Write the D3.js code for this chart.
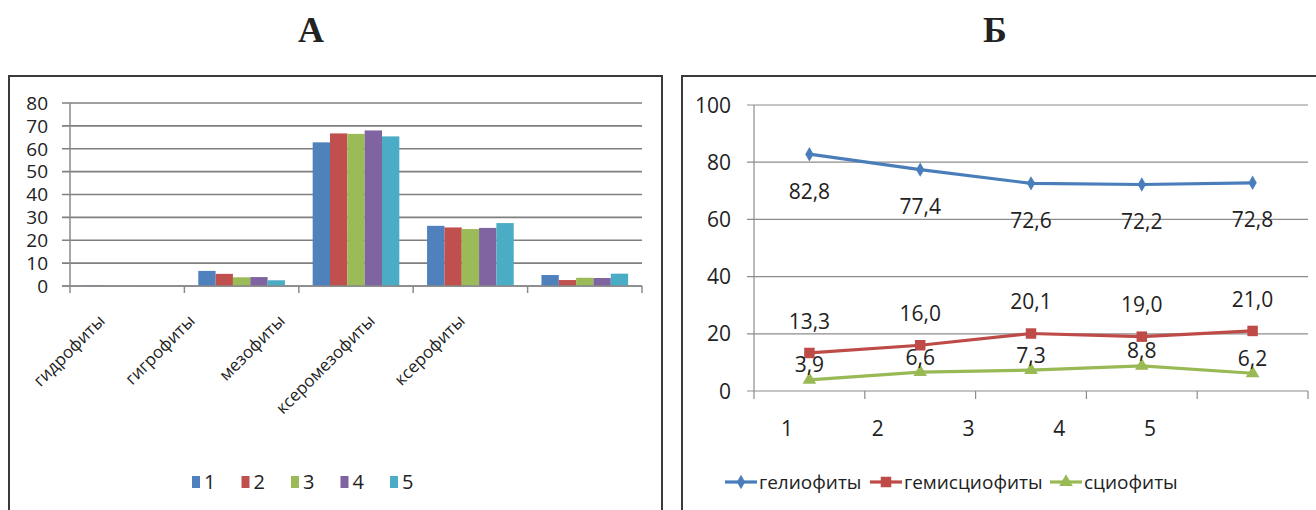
<!DOCTYPE html>
<html>
<head>
<meta charset="utf-8">
<script src="https://cdn.jsdelivr.net/npm/d3@7"></script>
<style>
  body { margin: 0; background: #fff; }
  svg { display: block; font-family: 'Open Sans', sans-serif; }
</style>
</head>
<body>
<div id="container"></div>
<script>
// ---- data: panel А (bars) ----
const phytoCategories = ['гидрофиты', 'гигрофиты', 'мезофиты', 'ксеромезофиты', 'ксерофиты'];
const barSeries = ['1', '2', '3', '4', '5'];
const barValues1 = [0.3, 6.6, 62.8, 26.3, 4.8];
const barValues2 = [0.0, 5.3, 66.7, 25.6, 2.6];
const barValues3 = [0.3, 3.8, 66.5, 24.9, 3.6];
const barValues4 = [0.0, 3.9, 68.0, 25.4, 3.5];
const barValues5 = [0.0, 2.5, 65.4, 27.5, 5.4];
const barTicks = [0, 10, 20, 30, 40, 50, 60, 70, 80];

// ---- data: panel Б (lines) ----
const sites = ['1', '2', '3', '4', '5'];
const lineNames = ['гелиофиты', 'гемисциофиты', 'сциофиты'];
const helioValues = [82.8, 77.4, 72.6, 72.2, 72.8];
const hemiValues = [13.3, 16.0, 20.1, 19.0, 21.0];
const scioValues = [3.9, 6.6, 7.3, 8.8, 6.2];
const lineTicks = [0, 20, 40, 60, 80, 100];

const barColors = ['#4f81bd', '#c0504d', '#9bbb59', '#8064a2', '#4bacc6'];
const lineColors = ['#4a7ebb', '#be4b48', '#98b954'];

const width = 1316, height = 510;

const svg = d3.select('#container').append('svg')
  .attr('width', width)
  .attr('height', height);

// titles
svg.append('text').attr('x', 311).attr('y', 42)
  .attr('text-anchor', 'middle')
  .style('font-family', "'Liberation Serif', serif").style('font-weight', 'bold')
  .style('font-size', '36px').attr('fill', '#222').text('А');
svg.append('text').attr('x', 995).attr('y', 42)
  .attr('text-anchor', 'middle')
  .style('font-family', "'Liberation Serif', serif").style('font-weight', 'bold')
  .style('font-size', '36px').attr('fill', '#222').text('Б');

// panel frames
svg.append('rect').attr('x', 9).attr('y', 76).attr('width', 653).attr('height', 450)
  .attr('fill', 'none').attr('stroke', '#3a3a3a').attr('stroke-width', 2);
svg.append('rect').attr('x', 682).attr('y', 76).attr('width', 650).attr('height', 450)
  .attr('fill', 'none').attr('stroke', '#3a3a3a').attr('stroke-width', 2);

// ================= panel А =================
const gA = svg.append('g');
const yA = d3.scaleLinear().domain([0, 80]).range([286, 103]);
const xA = d3.scaleBand().domain(phytoCategories).range([70, 642]);
const xInner = d3.scaleBand().domain(barSeries).range([0, xA.bandwidth()])
  .paddingInner(0).paddingOuter(0.8);
const labelA = d3.scalePoint().domain(phytoCategories).range([106, 466]);

gA.selectAll('line.grid').data(barTicks).enter().append('line')
  .attr('class', 'grid')
  .attr('x1', 62).attr('x2', 642)
  .attr('y1', d => yA(d)).attr('y2', d => yA(d))
  .attr('stroke', '#7f7f7f').attr('stroke-width', 1.6);

gA.selectAll('text.ytick').data(barTicks).enter().append('text')
  .attr('class', 'ytick')
  .attr('x', 48).attr('y', d => yA(d))
  .attr('dy', '0.36em')
  .attr('text-anchor', 'end')
  .style('font-size', '19px').attr('fill', '#222')
  .text(d => d);

const barData = [barValues1, barValues2, barValues3, barValues4, barValues5];
barSeries.forEach((s, si) => {
  gA.selectAll('rect.s' + si).data(barData[si]).enter().append('rect')
    .attr('class', 's' + si)
    .attr('x', (d, i) => xA(phytoCategories[i]) + xInner(s))
    .attr('width', xInner.bandwidth())
    .attr('y', d => yA(d))
    .attr('height', d => yA(0) - yA(d))
    .attr('fill', barColors[si]);
});

gA.append('line').attr('x1', 70).attr('x2', 70).attr('y1', 103).attr('y2', 286)
  .attr('stroke', '#8a8a8a').attr('stroke-width', 1.5);
gA.append('line').attr('x1', 62).attr('x2', 642).attr('y1', 286).attr('y2', 286)
  .attr('stroke', '#8a8a8a').attr('stroke-width', 1.5);
const boundsA = phytoCategories.map(c => xA(c)).concat([642]);
gA.selectAll('line.xt').data(boundsA).enter().append('line')
  .attr('class', 'xt')
  .attr('x1', d => d).attr('x2', d => d)
  .attr('y1', 286).attr('y2', 293)
  .attr('stroke', '#8a8a8a').attr('stroke-width', 1.5);

gA.selectAll('text.cat').data(phytoCategories).enter().append('text')
  .attr('class', 'cat')
  .attr('transform', d => 'translate(' + labelA(d) + ',322) rotate(-45)')
  .attr('text-anchor', 'end')
  .style('font-size', '17px').attr('fill', '#222')
  .text(d => d);

const legA = gA.selectAll('g.leg').data(barSeries).enter().append('g')
  .attr('class', 'leg')
  .attr('transform', (d, i) => 'translate(' + (192 + i * 49.5) + ',482)');
legA.append('rect').attr('x', 0).attr('y', -6).attr('width', 8).attr('height', 12)
  .attr('fill', (d, i) => barColors[i]);
legA.append('text').attr('x', 12).attr('y', 0).attr('dy', '0.36em')
  .style('font-size', '20px').attr('fill', '#222')
  .text(d => d);

// ================= panel Б =================
const gB = svg.append('g');
const yB = d3.scaleLinear().domain([0, 100]).range([391, 105]);
const xB = d3.scaleBand().domain(sites).range([754, 1308]);
const cx = d => xB(d) + xB.bandwidth() / 2;
const labelB = d3.scalePoint().domain(sites).range([787, 1150]);

gB.selectAll('line.grid').data(lineTicks).enter().append('line')
  .attr('class', 'grid')
  .attr('x1', 747).attr('x2', 1308)
  .attr('y1', d => yB(d)).attr('y2', d => yB(d))
  .attr('stroke', '#8c8c8c').attr('stroke-width', 1.2);

gB.selectAll('text.ytick').data(lineTicks).enter().append('text')
  .attr('class', 'ytick')
  .attr('x', 731).attr('y', d => yB(d))
  .attr('dy', '0.36em')
  .attr('text-anchor', 'end')
  .style('font-size', '21px').attr('fill', '#222')
  .text(d => d);

gB.append('line').attr('x1', 754).attr('x2', 754).attr('y1', 105).attr('y2', 391)
  .attr('stroke', '#8c8c8c').attr('stroke-width', 1.2);
const boundsB = sites.map(s => xB(s)).concat([1308]);
gB.selectAll('line.xt').data(boundsB).enter().append('line')
  .attr('class', 'xt')
  .attr('x1', d => d).attr('x2', d => d)
  .attr('y1', 391).attr('y2', 399)
  .attr('stroke', '#8c8c8c').attr('stroke-width', 1.2);

gB.selectAll('text.xtick').data(sites).enter().append('text')
  .attr('class', 'xtick')
  .attr('x', d => labelB(d)).attr('y', 428)
  .attr('dy', '0.36em')
  .attr('text-anchor', 'middle')
  .style('font-size', '21px').attr('fill', '#222')
  .text(d => d);

const lineData = [helioValues, hemiValues, scioValues];
const labelOffsets = [37, -32, -15];
const symbols = [d3.symbolDiamond, d3.symbolSquare, d3.symbolTriangle];
const symbolSizes = [60, 110, 80];
const fmt = v => v.toFixed(1).replace('.', ',');

const line = d3.line().x((d, i) => cx(sites[i])).y(d => yB(d));

lineData.forEach((vals, li) => {
  gB.append('path').datum(vals)
    .attr('d', line)
    .attr('fill', 'none')
    .attr('stroke', lineColors[li])
    .attr('stroke-width', 3.2);
  gB.selectAll('path.m' + li).data(vals).enter().append('path')
    .attr('class', 'm' + li)
    .attr('transform', (d, i) => 'translate(' + cx(sites[i]) + ',' + yB(d) + ')')
    .attr('d', d3.symbol().type(symbols[li]).size(symbolSizes[li]))
    .attr('fill', lineColors[li]);
});

lineData.forEach((vals, li) => {
  gB.selectAll('text.v' + li).data(vals).enter().append('text')
    .attr('class', 'v' + li)
    .attr('x', (d, i) => cx(sites[i]))
    .attr('y', d => yB(d) + labelOffsets[li])
    .attr('dy', '0.36em')
    .attr('text-anchor', 'middle')
    .style('font-size', '21px').attr('fill', '#222')
    .text(d => fmt(d));
});

const legX = [725, 870, 1050];
const legB = gB.selectAll('g.leg').data(lineNames).enter().append('g')
  .attr('class', 'leg')
  .attr('transform', (d, i) => 'translate(' + legX[i] + ',482)');
legB.append('line').attr('x1', 0).attr('x2', 32).attr('y1', 0).attr('y2', 0)
  .attr('stroke', (d, i) => lineColors[i]).attr('stroke-width', 3.2);
legB.append('path')
  .attr('transform', 'translate(16,0)')
  .attr('d', (d, i) => d3.symbol().type(symbols[i]).size(symbolSizes[i])())
  .attr('fill', (d, i) => lineColors[i]);
legB.append('text').attr('x', 34).attr('y', 0).attr('dy', '0.36em')
  .style('font-size', '19px').attr('fill', '#222')
  .text(d => d);
</script>
</body>
</html>
